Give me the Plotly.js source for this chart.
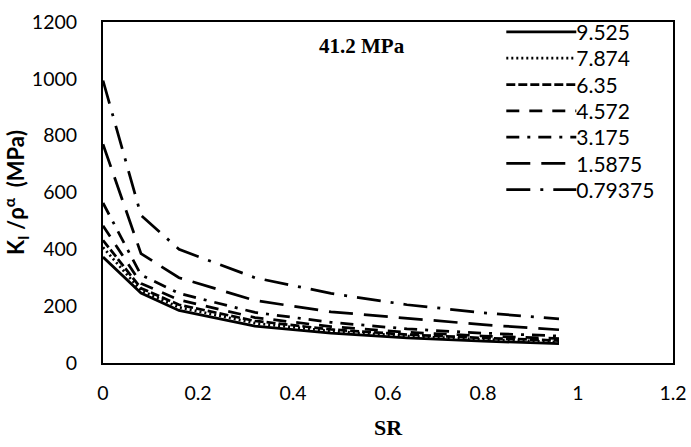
<!DOCTYPE html>
<html>
<head>
<meta charset="utf-8">
<script src="https://cdn.plot.ly/plotly-3.0.1.min.js"></script>
<style>
  html, body { margin: 0; padding: 0; background: #fff; }
  #chart { width: 691px; height: 447px; }
</style>
</head>
<body>
<div id="chart"></div>
<script>
// Stress ratio (SR) sampled along each curve
const sr = [0, 0.08, 0.16, 0.32, 0.48, 0.64, 0.8, 0.96];

// Normalised stress intensity K_I / rho^alpha (MPa), one array per notch radius
const k9525   = [373, 246, 185, 130, 105, 88, 77, 68];
const k7874   = [407, 255, 196, 140, 112, 95, 83, 74];
const k635    = [432, 263, 205, 148, 118, 100, 88, 79];
const k4572   = [483, 280, 222, 160, 128, 108, 95, 86];
const k3175   = [563, 310, 245, 178, 143, 120, 105, 95];
const k15875  = [770, 385, 300, 220, 180, 157, 135, 117];
const k079375 = [994, 520, 400, 300, 245, 205, 177, 155];

const seriesNames = ['9.525', '7.874', '6.35', '4.572', '3.175', '1.5875', '0.79375'];
const seriesValues = [k9525, k7874, k635, k4572, k3175, k15875, k079375];
const dashes = [
  'solid',
  '2px,3px',
  '9px,3px',
  '13px,10px',
  '13px,8px,3px,8px',
  '24px,11px',
  '24px,10px,3px,10px'
];

const sansFont = 'Lato, "Open Sans", sans-serif';
const serifFont = '"Liberation Serif", "DejaVu Serif", serif';

const traces = seriesNames.map((name, i) => ({
  x: sr,
  y: seriesValues[i],
  name: name,
  type: 'scatter',
  mode: 'lines',
  line: { color: '#000', width: 2.75, dash: dashes[i] },
  hoverinfo: 'skip'
}));

const layout = {
  width: 691,
  height: 447,
  margin: { l: 103, r: 18, t: 15, b: 84 },
  paper_bgcolor: '#fff',
  plot_bgcolor: '#fff',
  font: { family: sansFont, size: 19, color: '#000' },
  showlegend: true,
  legend: {
    x: 0.69, xanchor: 'left',
    y: 1.03, yanchor: 'top',
    bgcolor: 'rgba(0,0,0,0)',
    borderwidth: 0,
    itemwidth: 70,
    font: { family: sansFont, size: 21, color: '#000' },
    tracegroupgap: 0
  },
  xaxis: {
    range: [0, 1.2],
    dtick: 0.2,
    showgrid: false,
    zeroline: false,
    showline: true,
    mirror: true,
    linecolor: '#000',
    linewidth: 2,
    ticks: '',
    ticklabelstandoff: 12,
    tickfont: { family: sansFont, size: 19.5 },
    title: { text: '<b>SR</b>', font: { family: serifFont, size: 22 }, standoff: 16 }
  },
  yaxis: {
    range: [0, 1200],
    dtick: 200,
    showgrid: false,
    zeroline: false,
    showline: true,
    mirror: true,
    linecolor: '#000',
    linewidth: 2,
    ticks: '',
    ticklabelstandoff: 20,
    tickfont: { family: sansFont, size: 19.5 },
    title: {
      text: '<b>K<sub>I</sub> /ρ<sup>α</sup>  (MPa)</b>',
      font: { family: sansFont, size: 22 },
      standoff: 8
    }
  },
  annotations: [{
    text: '<b>41.2 MPa</b>',
    xref: 'paper', yref: 'paper',
    x: 0.455, y: 0.93,
    xanchor: 'center', yanchor: 'middle',
    showarrow: false,
    font: { family: serifFont, size: 21, color: '#000' }
  }]
};

Plotly.newPlot('chart', traces, layout, { displayModeBar: false, staticPlot: true }).then(gd => {
  const items = Array.from(gd.querySelectorAll('.legend .traces'));
  const rowGap = 26.3;
  let x0 = null, y0 = null;
  items.forEach((item, i) => {
    // lengthen the legend line samples so the dash patterns are readable
    item.querySelectorAll('.legendlines path').forEach(p => p.setAttribute('d', 'M10,0h70'));
    // tighten the row spacing of the legend
    const m = /translate\(\s*([-\d.]+)[ ,]+([-\d.]+)\s*\)/.exec(item.getAttribute('transform') || '');
    if (m) {
      if (i === 0) { x0 = parseFloat(m[1]); y0 = parseFloat(m[2]); }
      item.setAttribute('transform', 'translate(' + x0 + ',' + (y0 + i * rowGap) + ')');
    }
  });
});
</script>
</body>
</html>
